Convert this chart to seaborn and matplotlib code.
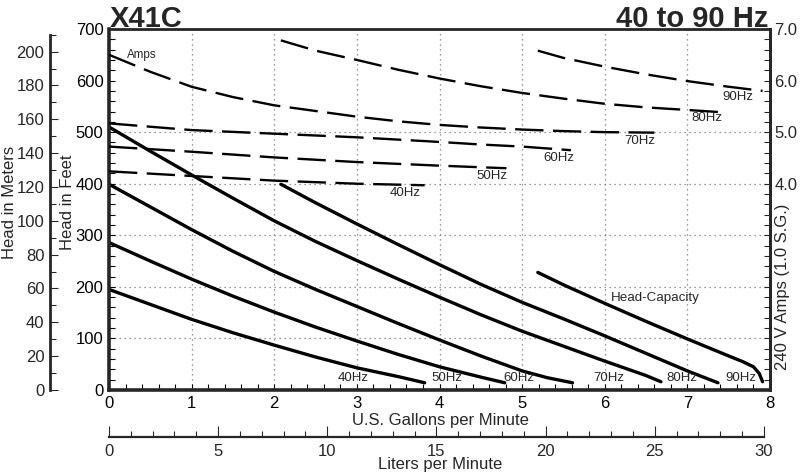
import matplotlib
matplotlib.use("Agg")
import matplotlib.pyplot as plt
from matplotlib.ticker import MultipleLocator, FixedLocator
import pandas as pd
import seaborn as sns

# head-capacity curves: U.S. gpm -> head in feet
gpm_40 = [0, 0.5, 1, 1.5, 2, 2.5, 3, 3.5, 3.82]
head_40 = [195, 166, 137, 111, 87, 64, 43, 26, 14]
gpm_50 = [0, 0.5, 1, 1.5, 2, 2.5, 3, 3.5, 4, 4.5, 4.79]
head_50 = [286, 250, 215, 182, 151, 122, 95, 69, 45, 25, 14]
gpm_60 = [0, 0.5, 1, 1.5, 2, 2.5, 3, 3.5, 4, 4.5, 5, 5.3, 5.61]
head_60 = [399, 355, 311, 269, 230, 195, 162, 129, 97, 66, 37, 24, 14]
gpm_70 = [0, 0.5, 1, 1.5, 2, 2.5, 3, 3.5, 4, 4.5, 5, 5.5, 6, 6.5, 6.68]
head_70 = [510, 463, 417, 372, 328, 288, 251, 215, 180, 146, 114, 85, 56, 28, 16]
gpm_80 = [2.08, 2.5, 3, 3.5, 4, 4.5, 5, 5.5, 6, 6.5, 7, 7.37]
head_80 = [399, 363, 322, 282, 243, 205, 170, 138, 105, 71, 37, 14]
gpm_90 = [5.19, 5.5, 6, 6.5, 7, 7.5, 7.67, 7.8, 7.87, 7.91]
head_90 = [228, 204, 168, 133, 99, 66, 55, 45, 32, 16]

# amp draw: U.S. gpm -> 240 V amps
amp_gpm_40 = [0, 1, 2, 3, 3.82]
amps_40 = [4.24, 4.15, 4.06, 4.0, 3.97]
amp_gpm_50 = [0, 1, 2, 3, 4, 4.81]
amps_50 = [4.72, 4.62, 4.51, 4.42, 4.35, 4.30]
amp_gpm_60 = [0, 1, 2, 3, 4, 4.5, 5, 5.59]
amps_60 = [5.17, 5.04, 4.97, 4.90, 4.81, 4.76, 4.72, 4.65]
amp_gpm_70 = [0, 0.5, 1, 1.5, 2, 2.5, 3, 3.5, 4, 4.5, 5, 5.5, 6, 6.6]
amps_70 = [6.50, 6.17, 5.88, 5.68, 5.52, 5.41, 5.30, 5.21, 5.14, 5.09, 5.05, 5.02, 5.0, 4.99]
amp_gpm_80 = [2.08, 2.5, 3, 3.5, 4, 4.5, 5, 5.5, 6, 6.5, 7, 7.38]
amps_80 = [6.78, 6.58, 6.40, 6.21, 6.04, 5.89, 5.76, 5.65, 5.55, 5.48, 5.43, 5.39]
amp_gpm_90 = [5.19, 5.5, 6, 6.5, 7, 7.5, 7.91]
amps_90 = [6.58, 6.44, 6.27, 6.12, 5.99, 5.88, 5.80]

freqs = ["40Hz", "50Hz", "60Hz", "70Hz", "80Hz", "90Hz"]
head_label_gpm = [2.95, 4.09, 4.96, 6.05, 6.93, 7.65]
head_label_ft = [23, 23, 23, 23, 23, 23]
amp_label_gpm = [3.59, 4.63, 5.45, 6.42, 7.23, 7.61]
amp_label_amps = [3.82, 4.15, 4.49, 4.83, 5.27, 5.69]

head = pd.concat([
    pd.DataFrame({"gpm": g, "feet": h, "freq": f})
    for g, h, f in zip([gpm_40, gpm_50, gpm_60, gpm_70, gpm_80, gpm_90],
                       [head_40, head_50, head_60, head_70, head_80, head_90], freqs)
])
amps = pd.concat([
    pd.DataFrame({"gpm": g, "amps": a, "freq": f})
    for g, a, f in zip([amp_gpm_40, amp_gpm_50, amp_gpm_60, amp_gpm_70, amp_gpm_80, amp_gpm_90],
                       [amps_40, amps_50, amps_60, amps_70, amps_80, amps_90], freqs)
])

sns.set_style("ticks")
plt.rcParams["font.family"] = ["Liberation Sans", "DejaVu Sans"]
plt.rcParams["xtick.labelsize"] = 12
plt.rcParams["ytick.labelsize"] = 12

W, H = 800, 475
fig = plt.figure(figsize=(8, 4.75), dpi=100)
x0, x1, y0, y1 = 109, 770, 390, 29
ax = fig.add_axes([x0 / W, 1 - y0 / H, (x1 - x0) / W, (y0 - y1) / H])
ax.set_facecolor("none")

sns.lineplot(data=head, x="gpm", y="feet", units="freq", estimator=None, sort=False,
             color="black", linewidth=2.4, solid_joinstyle="round", ax=ax)
ax.set_xlim(0, 8)
ax.set_ylim(0, 700)
ax.set_xlabel("")
ax.set_ylabel("")
ax.xaxis.set_major_locator(MultipleLocator(1))
ax.xaxis.set_minor_locator(MultipleLocator(0.2))
ax.yaxis.set_major_locator(MultipleLocator(100))
ax.yaxis.set_minor_locator(MultipleLocator(20))
ax.tick_params(which="both", direction="in", length=4, width=0.8, top=True, right=False,
               colors="black")
ax.tick_params(axis="x", which="major", pad=4)
ax.tick_params(axis="y", which="major", pad=4)
for s in ["left", "bottom"]:
    ax.spines[s].set_linewidth(2.6)
for s in ["top", "right"]:
    ax.spines[s].set_linewidth(2.0)
ax.grid(axis="x", which="major", linestyle=(0, (1, 3)), color="#777777", linewidth=0.9)
for yg in [100, 200, 300, 400, 500]:
    ax.axhline(yg, linestyle=(0, (1, 3)), color="#777777", linewidth=0.9, zorder=0)

for f, gx, gy in zip(freqs, head_label_gpm, head_label_ft):
    ax.text(gx, gy, f, fontsize=9.5, ha="center", va="center")
ax.text(6.61, 178, "Head-Capacity", fontsize=9.6, ha="center", va="center")

# amps axis on the right
ax_a = ax.twinx()
sns.lineplot(data=amps, x="gpm", y="amps", units="freq", estimator=None, sort=False,
             color="black", linewidth=1.7, ax=ax_a)
for line in ax_a.lines:
    line.set_dashes((12, 4))
ax_a.set_ylim(0, 7)
ax_a.set_ylabel("")
ax_a.yaxis.set_major_locator(FixedLocator([4, 5, 6, 7]))
ax_a.yaxis.set_major_formatter(lambda v, p: f"{v:.1f}")
ax_a.yaxis.set_minor_locator(MultipleLocator(0.2))
ax_a.tick_params(which="both", direction="in", length=4, width=0.8, pad=3)
for s in ["left", "top", "bottom"]:
    ax_a.spines[s].set_visible(False)
ax_a.spines["right"].set_linewidth(2.0)
for f, gx, ga in zip(freqs, amp_label_gpm, amp_label_amps):
    ax_a.text(gx, ga, f, fontsize=9.5, ha="center", va="center")
ax_a.text(0.4, 6.49, "Amps", fontsize=8.4, ha="center", va="center")

# head in meters, offset to the left
ax_m = ax.twinx()
ax_m.set_ylim(0, 700 * 0.3048)
ax_m.yaxis.set_ticks_position("left")
ax_m.spines["left"].set_position(("axes", -(x0 - 50) / (x1 - x0)))
ax_m.spines["left"].set_bounds(0, 210)
ax_m.spines["left"].set_linewidth(2.0)
for s in ["right", "top", "bottom"]:
    ax_m.spines[s].set_visible(False)
ax_m.yaxis.set_major_locator(MultipleLocator(20))
ax_m.yaxis.set_minor_locator(MultipleLocator(10))
ax_m.tick_params(which="major", direction="in", length=6, width=0.8, pad=4)
ax_m.tick_params(which="minor", direction="in", length=4, width=0.8)

# liters per minute, offset below
ax_l = ax.twiny()
ax_l.set_xlim(0, 8 * 3.78541)
ax_l.xaxis.set_ticks_position("bottom")
ax_l.spines["bottom"].set_position(("axes", -(437 - y0) / (y0 - y1)))
ax_l.spines["bottom"].set_bounds(0, 30)
ax_l.spines["bottom"].set_linewidth(1.6)
for s in ["left", "right", "top"]:
    ax_l.spines[s].set_visible(False)
ax_l.xaxis.set_major_locator(MultipleLocator(5))
ax_l.xaxis.set_minor_locator(MultipleLocator(1))
ax_l.tick_params(which="major", direction="in", length=8, width=0.8, pad=5)
ax_l.tick_params(which="minor", direction="in", length=4, width=0.8)

# titles and axis labels
fig.text(110 / W, 1 - 27 / H, "X41C", fontsize=21, fontweight="bold", ha="left", va="baseline")
fig.text(768 / W, 1 - 27 / H, "40 to 90 Hz", fontsize=21, fontweight="bold", ha="right", va="baseline")
fig.text(440 / W, 1 - 421 / H, "U.S. Gallons per Minute", fontsize=12, ha="center", va="center")
fig.text(440 / W, 1 - 465 / H, "Liters per Minute", fontsize=12, ha="center", va="center")
fig.text(10 / W, 1 - 202 / H, "Head in Meters", fontsize=12, rotation=90, ha="center", va="center")
fig.text(68 / W, 1 - 202 / H, "Head in Feet", fontsize=12, rotation=90, ha="center", va="center")
fig.text(783 / W, 1 - 287 / H, "240 V Amps (1.0 S.G.)", fontsize=12, rotation=90, ha="center", va="center")

fig.savefig("out.png", dpi=100)
